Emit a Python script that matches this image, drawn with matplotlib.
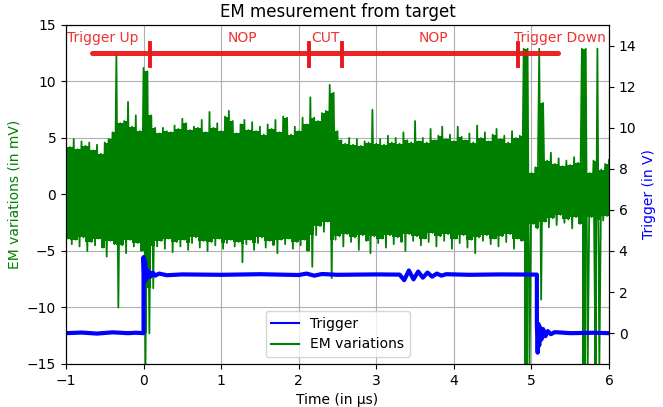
import matplotlib
matplotlib.use("Agg")
import matplotlib.pyplot as plt
import numpy as np

# EM probe signal, read as alternating upper / lower peaks every 0.05 us
em_t0 = -1.0
em_dt = 0.05
em_upper = [
    4.5, 4.2, 4.9, 4.0, 4.7, 4.3, 4.6, 3.9, 4.4, 3.6,
    4.6, 4.9, 5.5, 12.4, 6.3, 6.5, 8.2, 6.0, 7.0, 5.6,
    11.2, 10.9, 7.0, 5.9, 5.4, 5.9, 5.6, 5.5, 6.1, 5.8,
    6.7, 6.3, 5.7, 6.0, 5.9, 6.6, 5.5, 7.3, 5.9, 6.3,
    5.6, 6.9, 7.4, 6.5, 5.4, 6.2, 6.6, 5.7, 6.4, 5.6,
    6.0, 5.3, 6.2, 5.8, 6.6, 5.5, 6.9, 6.8, 5.3, 6.0,
    5.6, 6.8, 6.2, 8.6, 6.8, 6.5, 7.2, 7.4, 9.7, 9.0,
    5.6, 4.8, 4.5, 5.0, 4.4, 4.9, 4.3, 4.7, 4.6, 7.5,
    4.5, 4.9, 4.4, 5.2, 4.6, 5.0, 4.5, 5.5, 4.8, 4.6,
    6.5, 4.7, 5.0, 4.6, 5.8, 4.8, 5.2, 6.0, 4.9, 5.3,
    4.7, 6.0, 5.1, 4.8, 5.4, 4.6, 6.1, 5.0, 5.5, 4.7,
    5.3, 5.8, 4.9, 5.2, 4.6, 5.6, 5.0, 5.2, 12.9, 12.9,
    1.9, 2.4, 12.9, 8.1, 3.0, 3.7, 2.7, 3.2, 2.5, 3.0,
    2.6, 3.3, 2.8, 12.9, 12.9, 1.9, 3.0, 12.9, 2.2, 2.7,
    3.1,
]
em_lower = [
    -3.9, -4.4, -4.0, -4.6, -3.8, -5.0, -4.2, -4.5, -3.9, -4.7,
    -5.5, -4.1, -4.4, -10.0, -4.5, -5.2, -4.0, -4.6, -4.3, -5.0,
    -15.5, -12.3, -8.3, -4.6, -4.1, -4.8, -3.9, -5.1, -4.2, -4.6,
    -4.0, -4.9, -4.3, -3.8, -4.7, -4.1, -5.0, -4.2, -4.5, -3.9,
    -4.8, -4.3, -4.0, -4.6, -4.2, -6.0, -4.4, -4.0, -4.9, -4.3,
    -3.8, -4.7, -4.1, -4.5, -5.2, -4.0, -4.4, -3.9, -4.8, -4.2,
    -4.5, -4.0, -5.0, -6.4, -3.6, -2.8, -3.3, -2.4, -7.4, -4.0,
    -3.7, -4.6, -3.5, -4.2, -3.8, -4.9, -3.6, -4.1, -5.2, -3.7,
    -4.3, -3.9, -4.7, -3.6, -4.4, -3.8, -4.2, -5.0, -3.5, -4.1,
    -3.7, -4.5, -3.9, -4.2, -3.4, -4.6, -3.7, -4.1, -3.5, -4.8,
    -3.9, -4.3, -3.6, -4.7, -4.0, -5.2, -3.8, -4.1, -3.6, -4.4,
    -3.9, -4.6, -3.7, -4.2, -3.5, -4.8, -3.9, -4.1, -15.5, -15.5,
    -2.6, -3.0, -9.3, -2.4, -2.9, -2.1, -2.7, -1.8, -2.5, -2.2,
    -3.0, -2.0, -2.6, -15.5, -15.5, -2.0, -15.5, -15.5, -2.3, -1.9,
    -2.8,
]

# trigger line (V)
trig_t = [-1.0, -0.8, -0.6, -0.4, -0.2, -0.1, 0.0, 0.0, 0.01, 0.02, 0.03,
          0.04, 0.05, 0.07, 0.09, 0.12, 0.15, 0.2, 0.3, 0.5, 1.0, 1.5, 2.0,
          2.1, 2.2, 2.3, 2.5, 3.0, 3.3, 3.36, 3.42, 3.48, 3.54, 3.6, 3.66,
          3.72, 3.78, 3.84, 3.9, 4.2, 4.6, 5.07, 5.07, 5.08, 5.09, 5.10,
          5.11, 5.13, 5.15, 5.18, 5.21, 5.25, 5.3, 5.5, 5.8, 6.0]
trig_v = [0.0, 0.03, -0.02, 0.04, 0.0, 0.02, 0.0, 3.7, 2.5, 3.5, 2.6,
          3.1, 2.7, 3.0, 2.75, 2.95, 2.8, 2.9, 2.82, 2.86, 2.84, 2.87, 2.83,
          2.9, 2.8, 2.88, 2.84, 2.86, 2.85, 2.58, 3.05, 2.62, 3.0, 2.7, 2.95,
          2.75, 2.9, 2.8, 2.87, 2.84, 2.86, 2.85, 0.5, -0.95, 0.45, -0.6,
          0.3, -0.3, 0.2, -0.15, 0.1, -0.05, 0.05, 0.0, 0.02, 0.0]

# phase annotations
phase_marks = [0.08, 2.13, 2.56, 4.83]
phase_span = [-0.66, 5.34]
phase_level = 12.5
phase_labels = ["Trigger Up", "NOP", "CUT", "NOP", "Trigger Down"]
phase_label_x = [-0.52, 1.28, 2.34, 3.74, 5.37]

up = np.array(em_upper)
lo = np.array(em_lower)
n = len(up)
t_up = em_t0 + em_dt * np.arange(n)

# zig-zag between the peaks
em_t = np.empty(2 * n)
em_v = np.empty(2 * n)
em_t[0::2] = t_up
em_t[1::2] = t_up + em_dt / 2
em_v[0::2] = up
em_v[1::2] = lo

# solid core of the band (smaller of neighbouring peaks)
core_up = np.append(np.minimum(up[:-1], up[1:]), up[-1])
core_lo = np.append(np.maximum(lo[:-1], lo[1:]), lo[-1])

fig, ax = plt.subplots(figsize=(6.63, 4.07), dpi=100)
fig.subplots_adjust(left=0.0995, right=0.9186, bottom=0.1057, top=0.9386)
ax2 = ax.twinx()

ax.fill_between(t_up, core_lo, core_up, step="post", color="green", lw=0,
                zorder=2)
l_em, = ax.plot(em_t, em_v, color="green", lw=1.3, label="EM variations",
                zorder=2)
l_tr, = ax2.plot(trig_t, trig_v, color="blue", lw=3, label="Trigger")

ax.set_xlim(-1, 6)
ax.set_ylim(-15, 15)
ax.set_yticks(np.arange(-15, 16, 5))
ax2.set_ylim(-1.5, 15)
ax2.set_yticks(np.arange(0, 15, 2))
ax.grid(True)

ax.set_title("EM mesurement from target")
ax.set_xlabel("Time (in µs)")
ax.set_ylabel("EM variations (in mV)", color="green")
ax2.set_ylabel("Trigger (in V)", color="blue")

red = "#e8191a"
ax.plot(phase_span, [phase_level, phase_level], color=red, lw=3.6,
        solid_capstyle="round", zorder=5, alpha=0.95)
for m in phase_marks:
    ax.plot([m, m], [phase_level - 1.1, phase_level + 0.95], color=red,
            lw=2.8, zorder=5)
for lab, x in zip(phase_labels, phase_label_x):
    ax.text(x, 13.5, lab, color="#ee3333", ha="center", va="baseline",
            fontsize=10, zorder=6)

leg = ax2.legend([l_tr, l_em], ["Trigger", "EM variations"], loc="lower center")
for line in leg.get_lines():
    line.set_linewidth(1.5)

fig.savefig("out.png", dpi=100)
